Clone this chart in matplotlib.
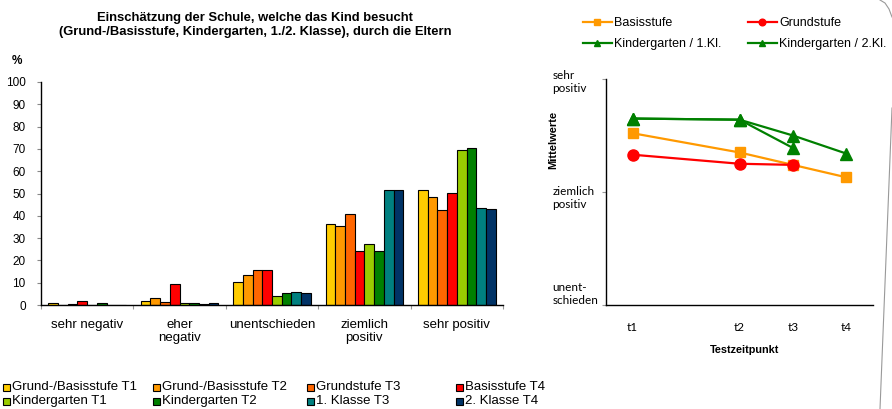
import matplotlib.pyplot as plt
import numpy as np
from matplotlib.lines import Line2D
from matplotlib.patches import Rectangle

plt.rcParams["font.family"] = ["Liberation Sans", "DejaVu Sans"]

# bar chart data (percent of parents)
categories = ["sehr negativ", "eher\nnegativ", "unentschieden", "ziemlich\npositiv", "sehr positiv"]
series_names = [
    "Grund-/Basisstufe T1", "Grund-/Basisstufe T2", "Grundstufe T3", "Basisstufe T4",
    "Kindergarten T1", "Kindergarten T2", "1. Klasse T3", "2. Klasse T4",
]
series_colors = ["#FFCC00", "#FF9900", "#FF6600", "#FF0000",
                 "#99CC00", "#008000", "#008080", "#003366"]
series_values = [
    [1.0, 2.0, 10.3, 36.3, 51.4],
    [0.0, 3.0, 13.3, 35.4, 48.6],
    [0.5, 1.5, 15.7, 40.8, 42.6],
    [2.0, 9.2, 15.8, 24.2, 50.1],
    [0.0, 1.0, 4.2, 27.4, 69.7],
    [1.0, 1.0, 5.2, 24.4, 70.6],
    [0.0, 0.5, 5.7, 51.4, 43.5],
    [0.0, 1.0, 5.4, 51.4, 43.0],
]

# line chart data (mean ratings, 3 = unentschieden, 5 = sehr positiv)
time_labels = ["t1", "t2", "t3", "t4"]
time_pos = [0, 2, 3, 4]
basis_mean = [4.52, 4.35, 4.24, 4.13]
grund_mean = [4.33, 4.25, 4.24]
kg1_mean = [4.65, 4.64, 4.39]
kg2_mean = [4.65, 4.64, 4.50, 4.34]

fig = plt.figure(figsize=(8.92, 4.09), dpi=100)

# ---- left: bar chart ----
ax = fig.add_axes([41 / 892, 1 - 305 / 409, 462 / 892, 223 / 409])
n = len(series_values)
width = 0.105
x = np.arange(len(categories))
for i, vals in enumerate(series_values):
    ax.bar(x + (i - (n - 1) / 2) * width, vals, width, color=series_colors[i],
           edgecolor="black", linewidth=0.8)
ax.set_xlim(-0.5, len(categories) - 0.5)
ax.set_ylim(0, 100)
ax.set_yticks(range(0, 101, 10))
ax.set_xticks(np.arange(len(categories) + 1) - 0.5)
ax.set_xticklabels([])
ax.set_xticks(x, minor=True)
ax.set_xticklabels(categories, minor=True, fontsize=9.5, va="top", linespacing=1.15)
ax.tick_params(axis="x", which="major", length=3, color="#999999", direction="out")
ax.tick_params(axis="x", which="minor", length=0, pad=10)
ax.tick_params(axis="y", length=3, color="#888888", labelsize=8.5, pad=8)
for s in ["top", "right"]:
    ax.spines[s].set_visible(False)
ax.spines["left"].set_linewidth(1.0)
ax.spines["bottom"].set_linewidth(1.0)

fig.text(255 / 892, 1 - 25 / 409,
         "Einschätzung der Schule, welche das Kind besucht\n"
         "(Grund-/Basisstufe, Kindergarten, 1./2. Klasse), durch die Eltern",
         ha="center", va="center", fontsize=9.4, fontweight="bold", linespacing=1.25)
fig.text(17 / 892, 1 - 61 / 409, "%", ha="center", va="center",
         fontsize=8.5, fontweight="bold")

# bottom legend (2 rows x 4 columns)
col_x = [3, 153, 307, 456]
row_y = [387, 401]
for i, name in enumerate(series_names):
    cx = col_x[i % 4]
    cy = row_y[i // 4]
    fig.add_artist(Rectangle((cx / 892, 1 - (cy + 3.5) / 409), 7 / 892, 7 / 409,
                             transform=fig.transFigure, facecolor=series_colors[i],
                             edgecolor="black", linewidth=0.8))
    fig.text((cx + 9) / 892, 1 - cy / 409, name, ha="left", va="center", fontsize=9.5)

# ---- right: line chart ----
ax2 = fig.add_axes([606 / 892, 1 - 305 / 409, 267 / 892, 226 / 409])
ax2.plot(time_pos, basis_mean, color="#FF9900", lw=1.6, marker="s", ms=7.5,
         label="Basisstufe")
ax2.plot(time_pos[:3], grund_mean, color="#FF0000", lw=1.6, marker="o", ms=8,
         label="Grundstufe")
ax2.plot(time_pos[:3], kg1_mean, color="#008000", lw=1.6, marker="^", ms=8,
         label="Kindergarten / 1.Kl.")
ax2.plot(time_pos, kg2_mean, color="#008000", lw=1.6, marker="^", ms=8,
         label="Kindergarten / 2.Kl.")
ax2.set_xlim(-0.5, 4.5)
ax2.set_ylim(3, 5)
ax2.set_xticks(time_pos)
ax2.set_xticklabels(time_labels, fontsize=8.5, family="Lato")
ax2.tick_params(axis="x", length=0, pad=12)
ax2.set_yticks([3, 4, 5])
ax2.set_yticklabels([])
ax2.tick_params(axis="y", length=3, color="#999999")
for s in ["top", "right"]:
    ax2.spines[s].set_visible(False)
ax2.spines["left"].set_linewidth(1.0)
ax2.spines["bottom"].set_linewidth(1.0)
ylabels = {5: "sehr\npositiv", 4: "ziemlich\npositiv", 3: "unent-\nschieden"}
yoffs = {5: 3, 4: 6, 3: -11}
for val, txt in ylabels.items():
    ax2.annotate(txt, xy=(-0.2, val), xycoords=("axes fraction", "data"),
                 xytext=(0, -yoffs[val]), textcoords="offset pixels",
                 ha="left", va="center", fontsize=8.5, family="Lato", linespacing=1.25)
fig.text(553 / 892, 1 - 140 / 409, "Mittelwerte", rotation=90, ha="center",
         va="center", fontsize=8, fontweight="bold")
fig.text(745 / 892, 1 - 350 / 409, "Testzeitpunkt", ha="center", va="center",
         fontsize=7.8, fontweight="bold")

handles, labels = ax2.get_legend_handles_labels()
order = [0, 2, 1, 3]
fig.legend([handles[k] for k in order], [labels[k] for k in order], ncol=2,
           loc="upper left", bbox_to_anchor=(583 / 892, 1 - 17 / 409), frameon=False,
           fontsize=9, handlelength=2.3, handletextpad=0.2, columnspacing=2.1,
           markerscale=0.6, labelspacing=0.75, borderaxespad=0, borderpad=0)

# page border decoration at the right edge
fig.add_artist(Line2D([892 / 892, 880 / 892], [1 - 108 / 409, 0],
                      transform=fig.transFigure, color="#999999", lw=0.8))
fig.add_artist(Line2D([880 / 892, 885 / 892, 889 / 892, 892 / 892],
                      [1, 1 - 3 / 409, 1 - 9 / 409, 1 - 17 / 409],
                      transform=fig.transFigure, color="#999999", lw=0.8))

fig.savefig("out.png", dpi=100)
